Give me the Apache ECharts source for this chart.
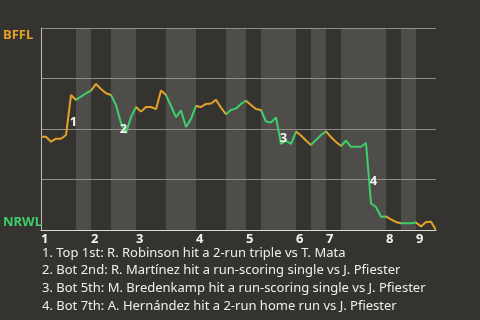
<!DOCTYPE html>
<html>
<head>
<meta charset="utf-8">
<style>html,body{margin:0;padding:0;background:#353330;}#c{width:480px;height:320px;}</style>
<script src="https://cdn.jsdelivr.net/npm/echarts@6/dist/echarts.min.js"></script>
</head>
<body>
<div id="c"></div>
<script>
// Win probability for BFFL (1 = BFFL certain, 0 = NRWL certain), one value per plate appearance
const winProb = [
  0.462, 0.462, 0.437, 0.452, 0.452, 0.470, 0.668, 0.644, 0.660, 0.677,
  0.690, 0.723, 0.698, 0.677, 0.668, 0.619, 0.530, 0.480, 0.559, 0.609,
  0.586, 0.609, 0.609, 0.598, 0.691, 0.668, 0.614, 0.559, 0.592, 0.510,
  0.550, 0.614, 0.609, 0.624, 0.626, 0.644, 0.606, 0.573, 0.594, 0.602,
  0.624, 0.640, 0.619, 0.599, 0.594, 0.537, 0.532, 0.557, 0.426, 0.442,
  0.426, 0.487, 0.468, 0.443, 0.421, 0.446, 0.470, 0.488, 0.460, 0.436,
  0.416, 0.442, 0.412, 0.412, 0.412, 0.431, 0.131, 0.114, 0.066, 0.067,
  0.052, 0.040, 0.033, 0.033, 0.033, 0.037, 0.017, 0.040, 0.041, 0.000
];
// Half-inning boundaries in plate-appearance index (top 1st, bot 1st, ... top 9th)
const halfInningBreaks = [0, 7, 10, 14, 19, 25, 31, 37, 41, 44, 51, 54, 57, 60, 69, 72, 75, 79];
const inningLabels = ['1', '2', '3', '4', '5', '6', '7', '8', '9'];
const awayTeam = 'BFFL';
const homeTeam = 'NRWL';
// Key plays: index of the plate appearance that ends each highlighted play
const keyPlayIndex = [6, 17, 48, 66];
const keyPlayLabels = ['1', '2', '3', '4'];
const keyPlayNotes = [
  '1. Top 1st: R. Robinson hit a 2-run triple vs T. Mata',
  '2. Bot 2nd: R. Martínez hit a run-scoring single vs J. Pfiester',
  '3. Bot 5th: M. Bredenkamp hit a run-scoring single vs J. Pfiester',
  '4. Bot 7th: A. Hernández hit a 2-run home run vs J. Pfiester'
];

const ORANGE = '#e2a229';
const GREEN = '#3ccf6b';
const BAND = '#4e4d4a';
const FONT = '"Noto Sans", "Open Sans", sans-serif';
const labelOffsets = [[5, 7], [0, 1], [5, 8], [5, 8]];

const lineData = winProb.map((v, i) => [i, v]);
const inningStarts = halfInningBreaks.filter((b, i) => i % 2 === 0 && i < halfInningBreaks.length - 1);
const bottomBands = [];
const pieces = [];
for (let i = 0; i < halfInningBreaks.length - 1; i++) {
  const a = halfInningBreaks[i], b = halfInningBreaks[i + 1];
  const isBottom = i % 2 === 1;
  if (isBottom) bottomBands.push([{ xAxis: a }, { xAxis: b }]);
  const p = { gte: a, color: isBottom ? GREEN : ORANGE };
  if (i === halfInningBreaks.length - 2) p.lte = b; else p.lt = b;
  pieces.push(p);
}
const markPoints = keyPlayIndex.map((k, j) => ({
  coord: [k - 0.5, (winProb[k - 1] + winProb[k]) / 2],
  label: { formatter: keyPlayLabels[j], offset: labelOffsets[j] }
}));

const chart = echarts.init(document.getElementById('c'), null, { renderer: 'canvas' });
chart.setOption({
  backgroundColor: '#353330',
  animation: false,
  grid: { left: 40, right: 44, top: 28, bottom: 90 },
  xAxis: {
    type: 'value', min: 0, max: halfInningBreaks[halfInningBreaks.length - 1],
    z: 2,
    axisLine: { show: true, lineStyle: { color: '#d8d8d8', width: 1 } },
    axisTick: { show: false },
    splitLine: { show: false },
    axisLabel: {
      customValues: inningStarts,
      formatter: v => inningLabels[inningStarts.indexOf(v)],
      color: '#f2f2f2', fontWeight: 'bold', fontSize: 13, fontFamily: FONT,
      align: 'left', margin: 3
    }
  },
  yAxis: {
    type: 'value', min: 0, max: 1, interval: 0.25,
    z: 2,
    axisLine: { show: true, lineStyle: { color: '#bdbdbd', width: 1 } },
    axisTick: { show: false },
    splitLine: { show: true, lineStyle: { color: '#8e8d8b', width: 1 } },
    axisLabel: {
      customValues: [0, 1],
      formatter: v => v === 1 ? '{a|' + awayTeam + '}' : '{b|' + homeTeam + '}',
      align: 'left', margin: 38,
      rich: {
        a: { color: ORANGE, fontWeight: 'bold', fontSize: 13, fontFamily: FONT, padding: [14, 0, 0, 0] },
        b: { color: GREEN, fontWeight: 'bold', fontSize: 13, fontFamily: FONT, padding: [0, 0, 16, 0] }
      }
    }
  },
  visualMap: {
    type: 'piecewise', show: false, dimension: 0, seriesIndex: 0, pieces: pieces
  },
  series: [{
    type: 'line',
    z: 3,
    data: lineData,
    showSymbol: false,
    symbol: 'none',
    lineStyle: { width: 2 },
    markPoint: {
      symbol: 'circle', symbolSize: 2,
      itemStyle: { color: 'rgba(0,0,0,0)' },
      label: { show: true, position: 'inside', color: '#f4f4f4', fontWeight: 'bold', fontSize: 13, fontFamily: FONT },
      data: markPoints
    }
  }, {
    type: 'line',
    data: [],
    z: 1,
    markArea: {
      silent: true,
      itemStyle: { color: BAND, borderWidth: 0 },
      data: bottomBands
    }
  }],
  graphic: [{
    type: 'text', left: 42, top: 244,
    style: {
      text: keyPlayNotes.join('\n'),
      fill: '#eeeeee', font: '13px ' + FONT, lineHeight: 17.8
    }
  }]
});
</script>
</body>
</html>
